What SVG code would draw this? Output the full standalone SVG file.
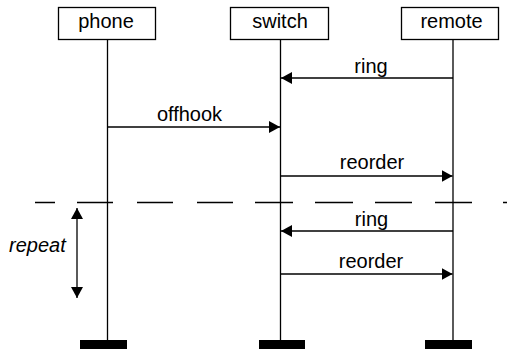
<svg xmlns="http://www.w3.org/2000/svg" width="507" height="354" viewBox="0 0 507 354">
  <style>
    text { font-family: "Liberation Sans", Arial, sans-serif; font-size: 20px; fill: #000; }
    .box { fill: #fff; stroke: #000; stroke-width: 1.3; }
    .life { stroke: #000; stroke-width: 1.3; }
    .msg { stroke: #000; stroke-width: 1.3; fill: none; }
    .bar { fill: #000; }
  </style>
  <defs>
    <marker id="arrow" viewBox="0 0 11 12" refX="11" refY="6" markerWidth="11" markerHeight="12" markerUnits="userSpaceOnUse" orient="auto-start-reverse">
      <path d="M0,0 L11,6 L0,12 Z" fill="#000"/>
    </marker>
  </defs>

  <!-- lifelines with end bars -->
  <g id="phone">
    <line class="life" x1="107.5" y1="40" x2="107.5" y2="340"/>
    <rect class="box" x="58.5" y="7.5" width="97" height="32"/>
    <text x="106" y="28" text-anchor="middle">phone</text>
    <rect class="bar" x="80" y="340" width="47" height="9"/>
  </g>
  <g id="switch">
    <line class="life" x1="280.5" y1="40" x2="280.5" y2="340"/>
    <rect class="box" x="230.5" y="7.5" width="98" height="32"/>
    <text x="280" y="28" text-anchor="middle">switch</text>
    <rect class="bar" x="259" y="340" width="46" height="9"/>
  </g>
  <g id="remote">
    <line class="life" x1="453" y1="40" x2="453" y2="340"/>
    <rect class="box" x="401.5" y="7.5" width="97" height="32"/>
    <text x="451.5" y="28" text-anchor="middle">remote</text>
    <rect class="bar" x="425" y="340" width="47" height="9"/>
  </g>

  <!-- messages -->
  <g id="connectors">
    <line class="msg" x1="453" y1="78" x2="281" y2="78" marker-end="url(#arrow)"/>
    <text x="371" y="73" text-anchor="middle">ring</text>

    <line class="msg" x1="107.5" y1="127" x2="280" y2="127" marker-end="url(#arrow)"/>
    <text x="189.5" y="121" text-anchor="middle">offhook</text>

    <line class="msg" x1="280.5" y1="176" x2="452.5" y2="176" marker-end="url(#arrow)"/>
    <text x="372" y="169" text-anchor="middle">reorder</text>

    <line x1="35" y1="202.5" x2="507" y2="202.5" stroke="#000" stroke-width="1.3" stroke-dasharray="20 22 36 24 36 24 36 22 38 22 38 22 37 23 37 31"/>

    <line class="msg" x1="453" y1="231" x2="281" y2="231" marker-end="url(#arrow)"/>
    <text x="371.5" y="226" text-anchor="middle">ring</text>

    <line class="msg" x1="280.5" y1="274" x2="452.5" y2="274" marker-end="url(#arrow)"/>
    <text x="371" y="268" text-anchor="middle">reorder</text>

    <line class="msg" x1="77" y1="208" x2="77" y2="298" marker-start="url(#arrow)" marker-end="url(#arrow)"/>
    <text x="9" y="252" font-size="22" font-style="italic">repeat</text>
  </g>
</svg>
